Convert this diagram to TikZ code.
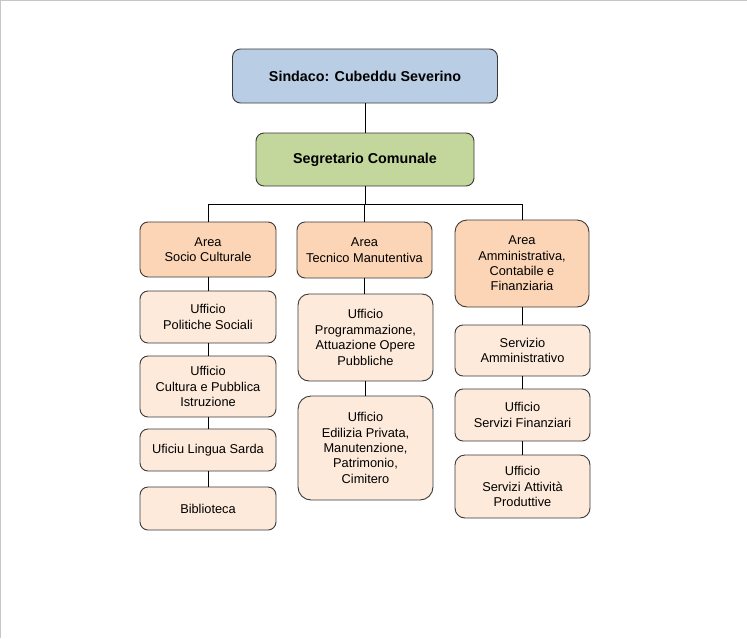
\documentclass[tikz,border=0pt]{standalone}
\usepackage{fontspec}
\setmainfont{Liberation Sans}
\definecolor{sindfill}{HTML}{B9CDE5}
\definecolor{segfill}{HTML}{C3D69B}
\definecolor{areafill}{HTML}{FBD5B5}
\definecolor{uffill}{HTML}{FDEADA}
\definecolor{edge}{HTML}{3A3A3A}
\tikzset{
  base/.style={draw=edge, line width=0.9pt, rounded corners=8pt, align=center, inner sep=2pt},
  topbox/.style={base, fill=sindfill, font=\fontsize{14.3}{17}\selectfont\bfseries},
  segbox/.style={base, fill=segfill, font=\fontsize{14.3}{17}\selectfont\bfseries},
  areabox/.style={base, fill=areafill, font=\fontsize{12.8}{15.4}\selectfont},
  ufbox/.style={base, fill=uffill, font=\fontsize{12.8}{15.4}\selectfont},
  conn/.style={draw=black, line width=0.8pt}
}
\begin{document}
\begin{tikzpicture}[x=1pt,y=-1pt]
\useasboundingbox (0,0) rectangle (747,638);
\draw[gray!45, line width=1.2pt] (0.6,638) -- (0.6,0.6) -- (747,0.6);

\node[topbox, minimum width=265pt, minimum height=54pt] (sind) at (365,76) {Sindaco: Cubeddu Severino};
\node[segbox, minimum width=218pt, minimum height=53pt] (seg) at (365,159.5) {Segretario Comunale};
\coordinate (bus) at (365,204);

% Column 1
\node[areabox, minimum width=136pt, minimum height=55pt] (a1) at (208,249.5) {Area\\Socio Culturale};
\node[ufbox, minimum width=136pt, minimum height=52pt] (u11) at (208,317) {Ufficio\\Politiche Sociali};
\node[ufbox, minimum width=136pt, minimum height=61pt] (u12) at (208,386.5) {Ufficio\\Cultura e Pubblica\\Istruzione};
\node[ufbox, minimum width=136pt, minimum height=42pt] (u13) at (208,450) {Uficiu Lingua Sarda};
\node[ufbox, minimum width=136pt, minimum height=43pt] (u14) at (208,508.5) {Biblioteca};

% Column 2
\node[areabox, minimum width=135pt, minimum height=56pt] (a2) at (364.5,250) {Area\\Tecnico Manutentiva};
\node[ufbox, rounded corners=11pt, minimum width=135pt, minimum height=87pt] (u21) at (365.5,337.5) {Ufficio\\Programmazione,\\Attuazione Opere\\Pubbliche};
\node[ufbox, rounded corners=13pt, minimum width=135pt, minimum height=104pt] (u22) at (365.5,448) {Ufficio\\Edilizia Privata,\\Manutenzione,\\Patrimonio,\\Cimitero};

% Column 3
\node[areabox, rounded corners=12pt, minimum width=134pt, minimum height=87pt] (a3) at (522,263.5) {Area\\Amministrativa,\\Contabile e\\Finanziaria};
\node[ufbox, minimum width=135pt, minimum height=51pt] (u31) at (522.5,350.5) {Servizio\\Amministrativo};
\node[ufbox, minimum width=135pt, minimum height=52pt] (u32) at (522.5,415) {Ufficio\\Servizi Finanziari};
\node[ufbox, rounded corners=10pt, minimum width=135pt, minimum height=63pt] (u33) at (522.5,486.5) {Ufficio\\Servizi Attività\\Produttive};

% Connectors
\draw[conn] (sind.south) -- (seg.north);
\draw[conn] (seg.south) -- (bus);
\draw[conn] (a1.north) |- (bus);
\draw[conn] (a2.north) -- (a2.north |- bus);
\draw[conn] (a3.north) |- (bus);
\draw[conn] (a1.south) -- (u11.north);
\draw[conn] (u11.south) -- (u12.north);
\draw[conn] (u12.south) -- (u13.north);
\draw[conn] (u13.south) -- (u14.north);
\draw[conn] (a2.south) -- (a2.south |- u21.north);
\draw[conn] (u21.south) -- (u22.north);
\draw[conn] (a3.south) -- (a3.south |- u31.north);
\draw[conn] (u31.south) -- (u32.north);
\draw[conn] (u32.south) -- (u33.north);
\end{tikzpicture}
\end{document}
